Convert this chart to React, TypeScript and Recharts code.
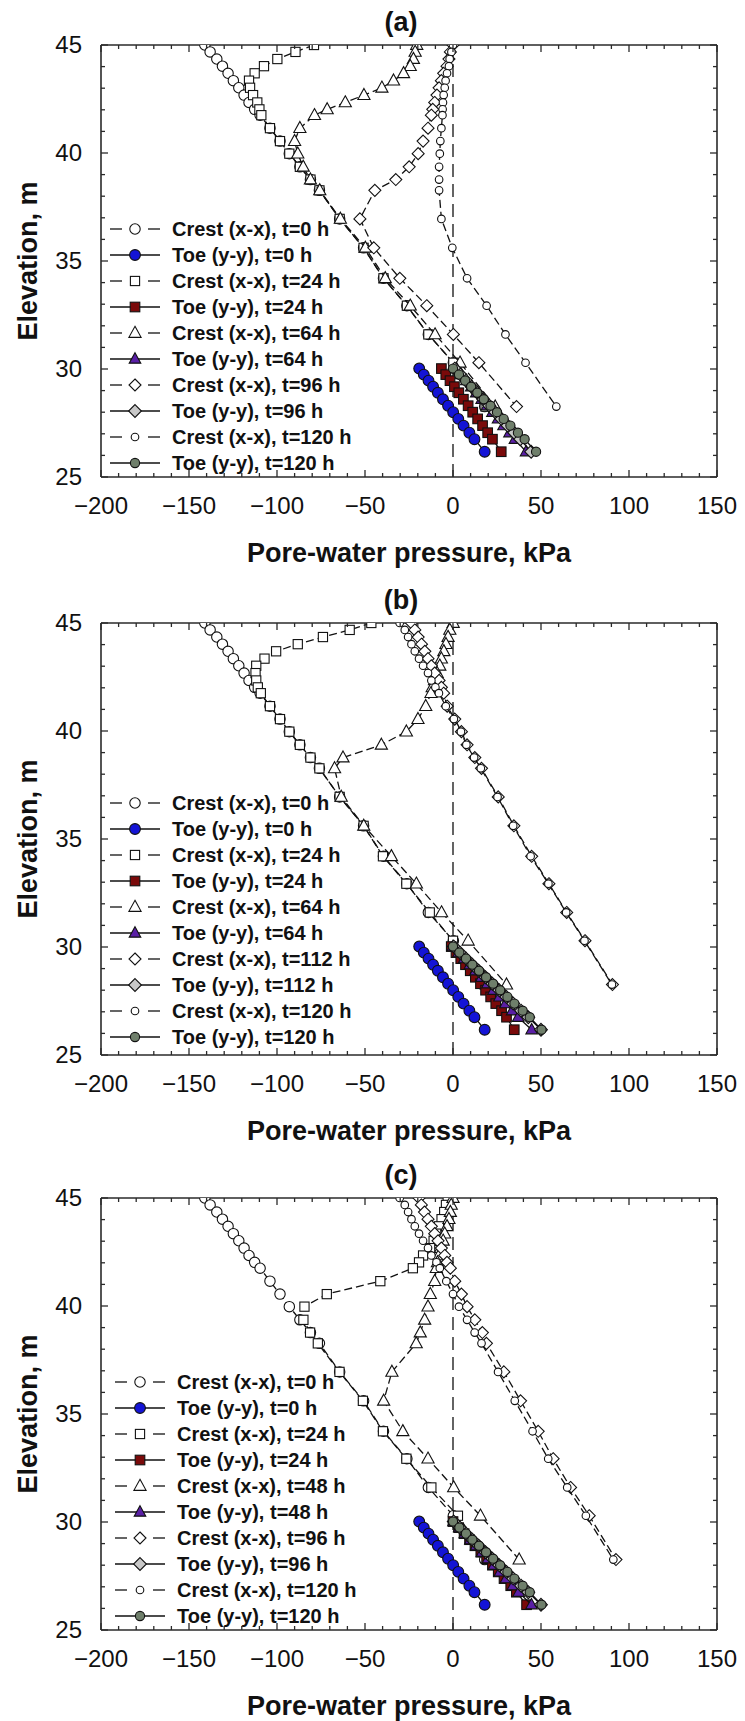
import React from "react";
import { ScatterChart, Scatter, XAxis, YAxis, ReferenceLine, Legend } from "recharts";

// node elevations (m)
const crestZ = [45, 44.68, 44.35, 44.02, 43.69, 43.35, 43.02, 42.68, 42.34, 42.02, 41.75, 41.15, 40.55, 39.97, 39.36, 38.77, 38.27, 36.95, 35.61, 34.2, 32.93, 31.6, 30.29, 28.26];
const toeZ = [30.02, 29.74, 29.46, 29.18, 28.9, 28.6, 28.3, 28.0, 27.69, 27.38, 27.05, 26.75, 26.17];

// initial condition (same in all panels), kPa
const crestT0 = [-141, -138, -134.2, -131, -127.8, -124.8, -121.7, -118.7, -115.9, -112.7, -109.6, -104, -98.3, -93, -87, -81, -75.9, -64.4, -50.8, -39.5, -26.2, -14, 0.2, 18];
const toeT0 = [-19.2, -16.6, -13.9, -11.3, -8.6, -5.7, -2.8, 0.1, 3.0, 6.0, 9.3, 12.2, 18.0];

// (a)
const crestA24 = [-79, -89.5, -99.8, -107.4, -112.7, -115.9, -115.3, -113.6, -111.2, -110, -108.9, -104, -98.3, -93, -87, -81, -75.9, -64.4, -50.8, -39.5, -26.2, -14, 0.2, 18.5];
const toeA24 = [-6.6, -4.1, -1.7, 0.8, 3.3, 5.9, 8.6, 11.2, 14.0, 16.8, 19.7, 22.4, 27.4];
const crestA64 = [-20.6, -21.5, -22.5, -24.3, -28.1, -33.8, -40.4, -50.6, -61.2, -71.5, -78.7, -87, -90, -88.2, -85.1, -81, -75.7, -64, -49.8, -38.5, -24.3, -10.2, 4, 24];
const toeA64 = [2, 4.8, 7.6, 10.4, 13.2, 16.3, 19.4, 22.4, 25.6, 28.7, 32.1, 35.2, 41.5];
const crestA96 = [0, -1.5, -2.3, -3.4, -5.3, -6.6, -7.9, -9.1, -10.4, -11.5, -12.3, -14.2, -17, -19.8, -24.9, -32.5, -44.4, -52.9, -45, -30.2, -14.9, 0.2, 14.7, 36.1];
const toeA96 = [1, 4.2, 7.4, 10.6, 13.8, 17.2, 20.6, 24, 27.5, 31, 34.8, 38.2, 44.4];
const crestA120 = [0, -0.9, -1.9, -2.3, -3.4, -4.2, -4.7, -5.3, -5.7, -5.9, -6.0, -6.6, -7.2, -7.5, -7.9, -7.9, -7.9, -6.6, -0.4, 8, 19.1, 29.8, 41.2, 58.7];
const toeA120 = [0, 3.4, 6.9, 10.3, 13.8, 17.5, 21.3, 25.0, 28.8, 32.6, 36.9, 40.7, 47.2];

// (b)
const crestB24 = [-46.4, -58.7, -73.9, -88.2, -100.5, -107.1, -111.8, -112.2, -111.8, -110.9, -109.2, -104, -98.3, -93, -87, -81, -75.9, -64.4, -50.8, -39.8, -26.5, -13.2, 0, 18];
const toeB24 = [-1, 1.7, 4.4, 7.1, 9.8, 12.7, 15.6, 18.5, 21.4, 24.3, 27.6, 30.4, 34.8];
const crestB64 = [0.1, -1.8, -2.8, -4.0, -5.2, -6.6, -7.5, -9, -10.5, -11.8, -12.5, -15.5, -19.9, -26.5, -40.7, -62.5, -67.3, -63.5, -50.7, -35, -20.8, -6.5, 8.6, 30.4];
const toeB64 = [0, 3.2, 6.4, 9.6, 12.8, 16.2, 19.6, 23.0, 26.4, 29.8, 33.6, 37.0, 44.7];
const crestB112 = [-23.6, -21.7, -19.8, -17.9, -16.0, -14.2, -12.3, -10.4, -7.9, -6.6, -5.3, -3.3, 1.0, 4.8, 8.0, 12.4, 16.2, 25.7, 34.6, 44.7, 54.5, 64.6, 75, 90.6];
const toeB112 = [0.4, 3.9, 7.5, 11.0, 14.6, 18.5, 22.4, 26.3, 30.3, 34.2, 38.7, 42.8, 50.0];
const crestB120 = [-30.3, -27.4, -25.5, -23.6, -21.7, -19.3, -17.0, -14.2, -12.3, -10, -8, -4.1, 0.5, 4.5, 7.6, 12, 15.8, 25.3, 34.2, 44.1, 54.2, 64.3, 74.7, 90.3];
const toeB120 = [0, 3.6, 7.4, 11.0, 14.8, 18.8, 22.8, 26.8, 30.9, 34.9, 39.6, 43.6, 50.3];

// (c)
const crestC24 = [-3, -4, -5, -6.5, -8, -9.5, -11, -13, -17, -19.3, -22.8, -41.3, -71.7, -84.4, -85, -81.2, -76.8, -64.5, -51.2, -39.8, -26.5, -12.3, 2.8, 20];
const toeC24 = [0, 3.2, 6.3, 9.4, 12.5, 15.8, 19.1, 22.4, 25.7, 29.0, 32.8, 36.0, 41.8];
const crestC48 = [0, -1, -1.5, -2.3, -3.4, -4.7, -5.6, -7, -8, -8.8, -9.5, -10.4, -12.9, -14.2, -16.1, -18.6, -20.9, -34.7, -39.4, -28.5, -14.2, 0.4, 15.6, 37.6];
const toeC48 = [0.3, 3.5, 6.7, 9.9, 13.1, 16.5, 19.9, 23.3, 26.7, 30.1, 34.0, 37.3, 44.6];
const crestC96 = [-19.3, -18, -16.2, -14.2, -12.3, -10.4, -8.5, -6.6, -4.7, -3.4, -1.5, 1.0, 4.8, 8.0, 12.4, 16.7, 19.0, 28.9, 38.4, 48.4, 56.9, 66.8, 77.4, 92.6];
const toeC96 = [0.4, 3.9, 7.5, 11.0, 14.6, 18.5, 22.4, 26.3, 30.3, 34.2, 38.7, 42.8, 50.0];
const crestC120 = [-30.3, -27.4, -25.5, -23.6, -21.7, -19.3, -17.0, -14.2, -12.3, -9.4, -7.5, -3.8, 0, 3.4, 8.0, 12.3, 16.2, 25.6, 35.1, 45.2, 54.1, 64.9, 75.5, 91.1];
const toeC120 = [0, 3.6, 7.4, 11.0, 14.8, 18.8, 22.8, 26.8, 30.9, 34.9, 39.6, 43.6, 50.3];

const namesA = ["Crest (x-x), t=0 h", "Toe (y-y), t=0 h", "Crest (x-x), t=24 h", "Toe (y-y), t=24 h", "Crest (x-x), t=64 h", "Toe (y-y), t=64 h", "Crest (x-x), t=96 h", "Toe (y-y), t=96 h", "Crest (x-x), t=120 h", "Toe (y-y), t=120 h"];
const namesB = ["Crest (x-x), t=0 h", "Toe (y-y), t=0 h", "Crest (x-x), t=24 h", "Toe (y-y), t=24 h", "Crest (x-x), t=64 h", "Toe (y-y), t=64 h", "Crest (x-x), t=112 h", "Toe (y-y), t=112 h", "Crest (x-x), t=120 h", "Toe (y-y), t=120 h"];
const namesC = ["Crest (x-x), t=0 h", "Toe (y-y), t=0 h", "Crest (x-x), t=24 h", "Toe (y-y), t=24 h", "Crest (x-x), t=48 h", "Toe (y-y), t=48 h", "Crest (x-x), t=96 h", "Toe (y-y), t=96 h", "Crest (x-x), t=120 h", "Toe (y-y), t=120 h"];

const xMajor = [-200, -150, -100, -50, 0, 50, 100, 150];
const yMajor = [25, 30, 35, 40, 45];
const xTicks = Array.from({ length: 36 }, (_, i) => -200 + i * 10);
const yTicks = Array.from({ length: 21 }, (_, i) => 25 + i);

const FONT = '"Liberation Sans", Arial, Helvetica, sans-serif';
const PLOT_W = 616;
const PLOT_H = 432;
const AXIS = "#2a2a2a";
const INK = "#111";

const looks = [
  { kind: "circle", fill: "#ffffff", dashed: true, r: 5.2 },
  { kind: "circle", fill: "#1414d6", dashed: false, r: 5.4 },
  { kind: "square", fill: "#ffffff", dashed: true, r: 4.6 },
  { kind: "square", fill: "#7a0a0a", dashed: false, r: 4.8 },
  { kind: "triangle", fill: "#ffffff", dashed: true, r: 5.8 },
  { kind: "triangle", fill: "#5a1fa6", dashed: false, r: 5.5 },
  { kind: "diamond", fill: "#ffffff", dashed: true, r: 6 },
  { kind: "diamond", fill: "#c8c8c8", dashed: false, r: 6.4 },
  { kind: "circle", fill: "#ffffff", dashed: true, r: 3.8 },
  { kind: "circle", fill: "#6f7f6b", dashed: false, r: 4.6 },
];

function Marker({ kind, cx, cy, r, fill }: any) {
  const s = { fill, stroke: INK, strokeWidth: 1.1 };
  if (kind === "square") return <rect x={cx - r} y={cy - r} width={2 * r} height={2 * r} {...s} />;
  if (kind === "triangle")
    return <polygon points={`${cx},${cy - r * 1.15} ${cx + r * 1.05},${cy + r * 0.75} ${cx - r * 1.05},${cy + r * 0.75}`} {...s} />;
  if (kind === "diamond")
    return <polygon points={`${cx},${cy - r} ${cx + r},${cy} ${cx},${cy + r} ${cx - r},${cy}`} {...s} />;
  return <circle cx={cx} cy={cy} r={r} {...s} />;
}

const fmt = (v: number) => (v < 0 ? "\u2212" + Math.abs(v) : String(v));

function XTick(props: any) {
  const { x, y, payload } = props;
  const v = payload.value;
  const major = xMajor.includes(v);
  const len = major ? 7 : 4;
  return (
    <g>
      <line x1={x} y1={y} x2={x} y2={y - len} stroke={AXIS} strokeWidth={1.3} />
      <line x1={x} y1={y - PLOT_H} x2={x} y2={y - PLOT_H + len} stroke={AXIS} strokeWidth={1.3} />
      {major && (
        <text x={x} y={y + 29} dy="0.35em" textAnchor="middle" fontSize={24} fontFamily={FONT} fill={INK}>
          {fmt(v)}
        </text>
      )}
    </g>
  );
}

function YTick(props: any) {
  const { x, y, payload } = props;
  const v = payload.value;
  const major = yMajor.includes(v);
  const len = major ? 7 : 4;
  return (
    <g>
      <line x1={x} y1={y} x2={x + len} y2={y} stroke={AXIS} strokeWidth={1.3} />
      <line x1={x + PLOT_W} y1={y} x2={x + PLOT_W - len} y2={y} stroke={AXIS} strokeWidth={1.3} />
      {major && (
        <text x={x - 19} y={y} dy="0.35em" textAnchor="end" fontSize={24} fontFamily={FONT} fill={INK}>
          {v}
        </text>
      )}
    </g>
  );
}

function LegendBox({ names }: { names: string[] }) {
  return (
    <div>
      {names.map((n, i) => {
        const lk = looks[i];
        return (
          <div key={n} style={{ display: "flex", alignItems: "center", height: 26 }}>
            <svg width={50} height={26} style={{ flex: "none" }}>
              {lk.dashed ? (
                <g stroke={INK} strokeWidth={1.3}>
                  <line x1={0} y1={13} x2={12} y2={13} />
                  <line x1={38} y1={13} x2={50} y2={13} />
                </g>
              ) : (
                <line x1={0} y1={13} x2={50} y2={13} stroke={INK} strokeWidth={1.3} />
              )}
              <Marker kind={lk.kind} cx={25} cy={13} r={lk.r} fill={lk.fill} />
            </svg>
            <span style={{ marginLeft: 12, fontFamily: FONT, fontWeight: 700, fontSize: 20, color: INK, whiteSpace: "nowrap" }}>{n}</span>
          </div>
        );
      })}
    </div>
  );
}

function Panel({ tag, names, values, top, legendLeft, legendTop }: any) {
  const series = values.map((vals: number[], i: number) => {
    const zs = i % 2 === 0 ? crestZ : toeZ;
    return zs.map((z, k) => ({ p: vals[k], z }));
  });
  return (
    <div style={{ position: "absolute", left: 0, top, width: 745, height: 575 }}>
      <ScatterChart width={745} height={575} margin={{ top: 45, right: 28, bottom: 0, left: 1 }}>
        <XAxis
          type="number"
          dataKey="p"
          domain={[-200, 150]}
          ticks={xTicks}
          interval={0}
          tickSize={0}
          tickMargin={0}
          tickLine={false}
          tick={(p: any) => <XTick {...p} />}
          height={98}
          axisLine={{ stroke: AXIS, strokeWidth: 1.6 }}
          allowDataOverflow
        />
        <YAxis
          type="number"
          dataKey="z"
          domain={[25, 45]}
          ticks={yTicks}
          interval={0}
          tickSize={0}
          tickMargin={0}
          tickLine={false}
          tick={(p: any) => <YTick {...p} />}
          width={100}
          axisLine={{ stroke: AXIS, strokeWidth: 1.6 }}
          allowDataOverflow
        />
        <ReferenceLine y={45} stroke={AXIS} strokeWidth={1.6} />
        <ReferenceLine x={150} stroke={AXIS} strokeWidth={1.6} />
        <ReferenceLine x={0} stroke={INK} strokeWidth={1.3} strokeDasharray="13 7" />
        {series.map((rows: any[], i: number) => {
          const lk = looks[i];
          return (
            <Scatter
              key={names[i]}
              name={names[i]}
              data={rows}
              line={{ stroke: INK, strokeWidth: 1.3, strokeDasharray: lk.dashed ? "8 4" : undefined }}
              lineType="joint"
              shape={(p: any) => <Marker kind={lk.kind} cx={p.cx} cy={p.cy} r={lk.r} fill={lk.fill} />}
              isAnimationActive={false}
            />
          );
        })}
        <Legend
          layout="vertical"
          align="center"
          verticalAlign="middle"
          wrapperStyle={{ left: legendLeft, top: legendTop - 13, width: 330, height: 260 }}
          content={() => <LegendBox names={names} />}
        />
      </ScatterChart>
      <div
        style={{
          position: "absolute",
          left: 401,
          top: 22,
          transform: "translate(-50%, -50%)",
          fontFamily: FONT,
          fontWeight: 700,
          fontSize: 27,
          color: INK,
        }}
      >
        {tag}
      </div>
      <div
        style={{
          position: "absolute",
          left: 409,
          top: 553,
          transform: "translate(-50%, -50%)",
          fontFamily: FONT,
          fontWeight: 700,
          fontSize: 27,
          color: INK,
          whiteSpace: "nowrap",
        }}
      >
        Pore-water pressure, kPa
      </div>
      <div
        style={{
          position: "absolute",
          left: 28,
          top: 261,
          transform: "translate(-50%, -50%) rotate(-90deg)",
          fontFamily: FONT,
          fontWeight: 700,
          fontSize: 27,
          color: INK,
          whiteSpace: "nowrap",
        }}
      >
        Elevation, m
      </div>
    </div>
  );
}

export default function App() {
  return (
    <div style={{ position: "absolute", left: 0, top: 0, width: 745, height: 1721, background: "#fff" }}>
      <Panel
        tag="(a)"
        names={namesA}
        values={[crestT0, toeT0, crestA24, toeA24, crestA64, toeA64, crestA96, toeA96, crestA120, toeA120]}
        top={0}
        legendLeft={110}
        legendTop={229}
      />
      <Panel
        tag="(b)"
        names={namesB}
        values={[crestT0, toeT0, crestB24, toeB24, crestB64, toeB64, crestB112, toeB112, crestB120, toeB120]}
        top={578}
        legendLeft={110}
        legendTop={225}
      />
      <Panel
        tag="(c)"
        names={namesC}
        values={[crestT0, toeT0, crestC24, toeC24, crestC48, toeC48, crestC96, toeC96, crestC120, toeC120]}
        top={1153}
        legendLeft={115}
        legendTop={229}
      />
    </div>
  );
}
